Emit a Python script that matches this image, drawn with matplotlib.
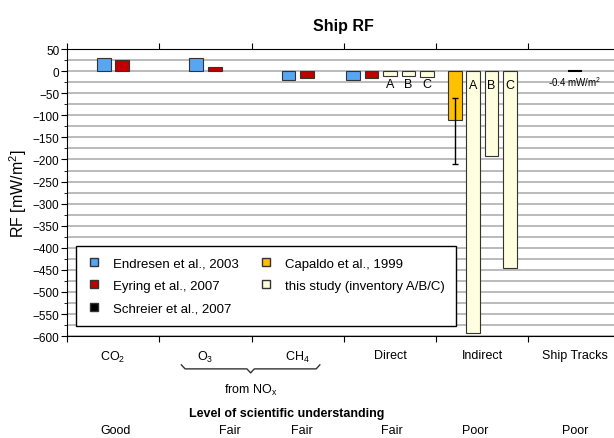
import numpy as np
import matplotlib
matplotlib.use('Agg')
import matplotlib.pyplot as plt
from matplotlib.ticker import MultipleLocator
from matplotlib.lines import Line2D
import matplotlib.transforms as mtransforms

plt.rcParams['font.family'] = ['Liberation Sans', 'DejaVu Sans']
plt.rcParams['mathtext.fontset'] = 'custom'
plt.rcParams['mathtext.rm'] = 'Liberation Sans'
plt.rcParams['mathtext.it'] = 'Liberation Sans'

# ---------- data ----------
categories = ['CO$_2$', 'O$_3$', 'CH$_4$', 'Direct', 'Indirect', 'Ship Tracks']
losu = ['Good', 'Fair', 'Fair', 'Fair', 'Poor', 'Poor']

endresen = [30, 29, -20, -21]          # CO2, O3, CH4, Direct
eyring = [26, 10, -15, -15]            # CO2, O3, CH4, Direct
schreier_tracks = -0.4                 # Ship Tracks
capaldo_indirect = -110
capaldo_range = (-60, -210)
study_labels = ['A', 'B', 'C']
study_direct = [-11, -11, -14]
study_indirect = [-592, -192, -446]

c_blue = '#56A6F4'
c_red = '#C00000'
c_black = '#000000'
c_gold = '#FFC000'
c_cream = '#FFFFE0'
edge = '#333333'
w = 0.15


def main():
    fig = plt.figure(figsize=(6.14, 4.39), dpi=100)
    ax = fig.add_axes([0.109, 0.232, 0.902, 0.654])

    kw = dict(width=w, edgecolor=edge, linewidth=0.8, zorder=3)

    # CO2, O3, CH4 : two studies
    for i in range(3):
        ax.bar(i + 0.5 - 0.1, endresen[i], color=c_blue, **kw)
        ax.bar(i + 0.5 + 0.1, eyring[i], color=c_red, **kw)

    # Direct
    ax.bar(3.5 - 0.4, endresen[3], color=c_blue, **kw)
    ax.bar(3.5 - 0.2, eyring[3], color=c_red, **kw)
    for j, v in enumerate(study_direct):
        x = 3.5 + 0.2 * j
        ax.bar(x, v, color=c_cream, **kw)
        ax.text(x, -30, study_labels[j], ha='center', va='center', fontsize=9)

    # Indirect
    ax.bar(4.5 - 0.3, capaldo_indirect, color=c_gold, **kw)
    lo, hi = capaldo_range
    ax.errorbar(4.5 - 0.3, (lo + hi) / 2, yerr=(lo - hi) / 2, fmt='none',
                ecolor='black', elinewidth=1, capsize=2.5, zorder=4)
    for j, v in enumerate(study_indirect):
        x = 4.5 - 0.1 + 0.2 * j
        ax.bar(x, v, color=c_cream, **kw)
        ax.text(x, -31, study_labels[j], ha='center', va='center', fontsize=9,
                zorder=5)

    # Ship tracks
    ax.bar(5.5, schreier_tracks, width=w, color=c_black, edgecolor=c_black,
           linewidth=1.5, zorder=3)
    ax.text(5.5, -23, '-0.4 mW/m$^2$', ha='center', va='center', fontsize=7)

    # axes
    ax.set_xlim(0, 6)
    ax.set_ylim(-600, 50)
    ax.yaxis.set_major_locator(MultipleLocator(50))
    ax.yaxis.set_minor_locator(MultipleLocator(25))
    ax.grid(axis='y', which='both', color='#A8A8A8', linewidth=1.1, zorder=0)
    ax.set_axisbelow(True)
    ax.tick_params(axis='y', which='major', direction='out', length=4,
                   labelsize=8.5, pad=1.5)
    ax.tick_params(axis='y', which='minor', direction='out', length=2.5)

    ax.set_xticks(np.arange(0, 7))
    ax.set_xticklabels([])
    ax.set_xticks(np.arange(6) + 0.5, minor=True)
    ax.set_xticklabels(categories, minor=True)
    ax.tick_params(axis='x', which='major', top=True, bottom=True,
                   direction='out', length=4)
    ax.tick_params(axis='x', which='minor', length=0, labelsize=9, pad=9,
                   top=False)
    ax.spines['right'].set_visible(False)

    ax.set_ylabel('RF [mW/m$^2$]', fontsize=11.5)
    ax.yaxis.set_label_coords(-0.068, 0.5)
    ax.set_title('Ship RF', fontsize=11.5, fontweight='bold', pad=14)

    # brace under O3 / CH4
    trans = mtransforms.blended_transform_factory(ax.transData, ax.transAxes)
    x0, x1 = 1.5 - 0.26, 2.5 + 0.24
    xm = (x0 + x1) / 2
    bx = [x0, x0 + 0.04, xm - 0.04, xm, xm + 0.04, x1 - 0.04, x1]
    by = [-0.100, -0.114, -0.114, -0.128, -0.114, -0.114, -0.100]
    ax.add_line(Line2D(bx, by, transform=trans, color='#333333',
                       linewidth=1, clip_on=False))
    ax.text(xm, -0.185, 'from NO$_x$', transform=trans, ha='center',
            va='center', fontsize=9)

    fig.text(0.467, 1 - 414 / 439, 'Level of scientific understanding',
             ha='center', va='center', fontsize=9, fontweight='bold')
    losu_x = [116, 230, 302, 392, 475, 575]
    for xp, s in zip(losu_x, losu):
        fig.text(xp / 614, 1 - 431 / 439, s, ha='center', va='center',
                 fontsize=9)

    # legend
    handles = [
        Line2D([], [], marker='s', ls='none', markersize=6, markerfacecolor=c_blue,
               markeredgecolor=edge, label='Endresen et al., 2003'),
        Line2D([], [], marker='s', ls='none', markersize=6, markerfacecolor=c_red,
               markeredgecolor=edge, label='Eyring et al., 2007'),
        Line2D([], [], marker='s', ls='none', markersize=6, markerfacecolor=c_black,
               markeredgecolor=edge, label='Schreier et al., 2007'),
        Line2D([], [], marker='s', ls='none', markersize=6, markerfacecolor=c_gold,
               markeredgecolor=edge, label='Capaldo et al., 1999'),
        Line2D([], [], marker='s', ls='none', markersize=6, markerfacecolor=c_cream,
               markeredgecolor=edge, label='this study (inventory A/B/C)'),
    ]
    leg = ax.legend(handles=handles, ncol=2, loc='lower left',
                    bbox_to_anchor=(0.016, 0.035), borderaxespad=0,
                    fontsize=9.5, frameon=True, fancybox=False,
                    edgecolor='black', framealpha=1, handlelength=1.0,
                    handletextpad=0.9, columnspacing=1.6, labelspacing=0.75,
                    borderpad=0.9)
    leg.get_frame().set_linewidth(1.0)
    leg.set_zorder(10)

    fig.savefig('out.png', dpi=100)


if __name__ == "__main__":
    main()
